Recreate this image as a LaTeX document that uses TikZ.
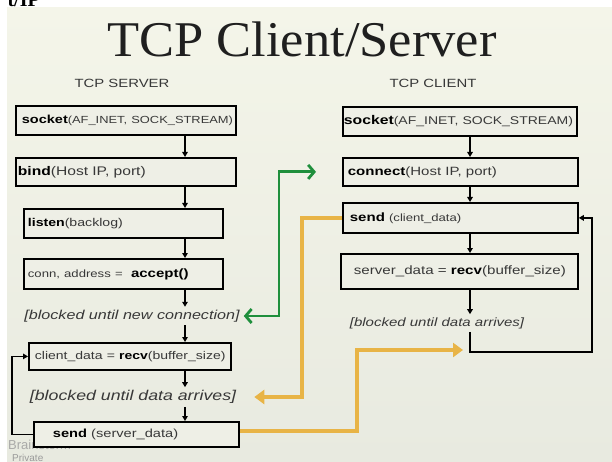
\documentclass[tikz,border=0pt]{standalone}
\usepackage{fontspec}
\usepackage{graphicx}
\newfontfamily\arial{Liberation Sans}
\newfontfamily\tnr{Liberation Serif}
\usetikzlibrary{arrows.meta}
\definecolor{slidetop}{HTML}{F4F5E9}
\definecolor{slidebot}{HTML}{E8EAE0}
\definecolor{boxbg}{HTML}{EEEFE6}
\definecolor{inkgrey}{HTML}{383838}
\definecolor{okgreen}{HTML}{1F8F3C}
\definecolor{amber}{HTML}{E8B446}
\definecolor{mark}{HTML}{9A9A9A}
% horizontally widened text, and a sized group of text
\newcommand\wide[1]{\scalebox{1.25}[1]{#1}}
\newcommand\fs[2]{{\fontsize{#1}{#1}\selectfont #2}}
\newcommand\kw[2]{{\fontsize{#1}{#1}\selectfont\bfseries\color{black}#2}}
\begin{document}
\begin{tikzpicture}[x=1pt,y=-1pt,
  box/.style={draw=black, line width=1.8pt, fill=boxbg, anchor=north west,
    inner xsep=0pt, inner ysep=0pt, align=left, font=\arial, text=inkgrey},
  boxwh/.style n args={2}{text width=#1, minimum height=#2},
  note/.style={font=\arial\itshape, text=inkgrey, inner sep=3pt},
  head/.style={font=\arial, text=inkgrey, inner sep=0pt},
  flow/.style={line width=1.4pt, -{Triangle[length=5pt,width=5.5pt]}},
  link/.style={okgreen, line width=2.8pt,
    {Straight Barb[length=6pt,width=14pt]}-{Straight Barb[length=6pt,width=14pt]}},
  pass/.style={amber, line width=4pt, -{Triangle[length=10pt,width=14pt]}},
]
\useasboundingbox (0,0) rectangle (612,462);
\fill[white] (0,0) rectangle (612,462);
\shade[top color=slidetop, bottom color=slidebot] (7,8) rectangle (612,462);

% clipped heading above the slide
\node[anchor=base east, inner sep=0pt, font=\tnr\bfseries] (hd) at (40,7) {\fs{20}{t/IP}};

% title
\node[anchor=base, inner sep=0pt, font=\tnr, text=black!88] (title) at (302,57)
  {\scalebox{1.05}[1]{\fs{50}{TCP Client/Server}}};

% column headings
\node[head] (hs) at (122,83) {\wide{\fs{11.9}{TCP SERVER}}};
\node[head] (hc) at (433,83) {\wide{\fs{11.9}{TCP CLIENT}}};

% watermark, partly covered by the last server step
\node[anchor=base west, inner sep=0pt, font=\arial, text=mark, opacity=0.8] (wm1) at (8,449) {\fs{13}{Brainstorm}};
\node[anchor=base west, inner sep=0pt, font=\arial, text=mark] (wm2) at (12,461) {\fs{10}{Private}};

% server column
\node[box, boxwh={220}{29}] (s1) at (15,105)
  {\hspace*{6pt}\wide{\kw{11.6}{socket}\fs{10.3}{(AF\_INET, SOCK\_STREAM)}}};
\node[box, boxwh={220}{28}] (s2) at (15,157)
  {\hspace*{2pt}\wide{\kw{12.5}{bind}\fs{12.5}{(Host IP, port)}}};
\node[box, boxwh={199}{29}] (s3) at (23,208)
  {\hspace*{4pt}\wide{\kw{11.3}{listen}\fs{11.3}{(backlog)}}};
\node[box, boxwh={199}{30}] (s4) at (23,258)
  {\hspace*{4pt}\wide{\fs{10.5}{conn, address =\ \ }\kw{12}{accept()}}};
\node[note] (bn) at (132,316) {\wide{\fs{12.9}{[blocked until new connection]}}};
\node[box, boxwh={202}{27}] (s5) at (28,342)
  {\hspace*{6pt}\wide{\fs{11.2}{client\_data = }\kw{11.2}{recv}\fs{11.2}{(buffer\_size)}}};
\node[note] (bd) at (133,397) {\wide{\fs{14.2}{[blocked until data arrives]}}};
\node[box, boxwh={205}{25}] (s6) at (33,421)
  {\hspace*{19pt}\wide{\kw{11.7}{send}\fs{11.7}{ (server\_data)}}};

% client column
\node[box, boxwh={234}{29}] (c1) at (342,106)
  {\hspace*{1pt}\wide{\kw{12.6}{socket}\fs{11.2}{(AF\_INET, SOCK\_STREAM)}}};
\node[box, boxwh={235}{28}] (c2) at (342,157)
  {\hspace*{5pt}\wide{\kw{12}{connect}\fs{12}{(Host IP, port)}}};
\node[box, boxwh={235}{30}] (c3) at (342,202)
  {\hspace*{7pt}\wide{\kw{12}{send}\fs{10.5}{ (client\_data)}}};
\node[box, boxwh={237}{35}] (c4) at (340,253)
  {\hspace*{13pt}\wide{\fs{12.1}{server\_data = }\kw{12.1}{recv}\fs{12.1}{(buffer\_size)}}};
\node[note] (cb) at (437,323) {\wide{\fs{12}{[blocked until data arrives]}}};

% flow lines
\coordinate (sx) at (185,0);
\coordinate (cx) at (470,0);
\draw[flow] (s1.south -| sx) -- (s2.north -| sx);
\draw[flow] (s2.south -| sx) -- (s3.north -| sx);
\draw[flow] (s3.south -| sx) -- (s4.north -| sx);
\draw[flow] (s4.south -| sx) -- (bn.north -| sx);
\draw[flow] (bn.south -| sx) -- (s5.north -| sx);
\draw[flow] (s5.south -| sx) -- (bd.north -| sx);
\draw[flow] (bd.south -| sx) -- (s6.north -| sx);
\draw[flow] (c1.south -| cx) -- (c2.north -| cx);
\draw[flow] (c2.south -| cx) -- (c3.north -| cx);
\draw[flow] (c3.south -| cx) -- (c4.north -| cx);
\draw[flow] (c4.south -| cx) -- (cb.north -| cx);

% loops back to the send / recv steps
\coordinate (sl) at (12,0);
\draw[flow] (s6.west) -- (s6.west -| sl) -- (s5.west -| sl) -- (s5.west);
\coordinate (cl) at (592,352);
\draw[flow] (cb.south -| cx) |- (cl) |- (c3.east);

% connection set-up
\coordinate (gx) at (279,0);
\draw[link, shorten <=1pt, shorten >=26pt] (bn.east) -- (bn.east -| gx) -- (c2.west -| gx) -- (c2.west);

% data exchange
\coordinate (ox1) at (302,0);
\draw[pass, shorten >=15pt] (c3.west) -- (c3.west -| ox1) -- (bd.east -| ox1) -- (bd.east);
\coordinate (ox2) at (357,0);
\coordinate (ct) at (463,350);
\draw[pass] ([yshift=3pt]s6.east) -- ([yshift=3pt]s6.east -| ox2) -- (ct -| ox2) -- (ct);
\end{tikzpicture}
\end{document}
